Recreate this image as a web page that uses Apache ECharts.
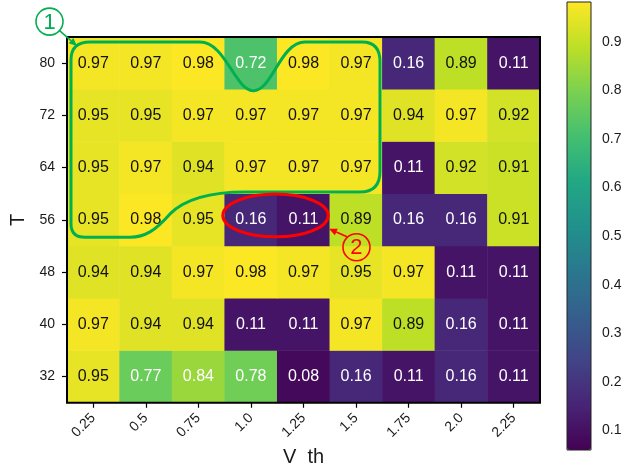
<!DOCTYPE html>
<html><head><meta charset="utf-8">
<script src="https://cdn.jsdelivr.net/npm/echarts@6/dist/echarts.min.js"></script>
<style>html,body{margin:0;padding:0;background:#fff}#c{width:626px;height:472px}</style>
</head><body><div id="c"></div>
<script>
// ---- data ----
const vthLabels = ['0.25','0.5','0.75','1.0','1.25','1.5','1.75','2.0','2.25'];
const tLabels = ['32','40','48','56','64','72','80']; // bottom -> top
const t80 = [0.97,0.97,0.98,0.72,0.98,0.97,0.16,0.89,0.11];
const t72 = [0.95,0.95,0.97,0.97,0.97,0.97,0.94,0.97,0.92];
const t64 = [0.95,0.97,0.94,0.97,0.97,0.97,0.11,0.92,0.91];
const t56 = [0.95,0.98,0.95,0.16,0.11,0.89,0.16,0.16,0.91];
const t48 = [0.94,0.94,0.97,0.98,0.97,0.95,0.97,0.11,0.11];
const t40 = [0.97,0.94,0.94,0.11,0.11,0.97,0.89,0.16,0.11];
const t32 = [0.95,0.77,0.84,0.78,0.08,0.16,0.11,0.16,0.11];
const rowsBottomUp = [t32,t40,t48,t56,t64,t72,t80];
const colorbarTicks = [0.1,0.2,0.3,0.4,0.5,0.6,0.7,0.8,0.9];
const colorMin = 0.06, colorMax = 0.982;
const viridis = ['#440154','#482475','#414487','#355f8d','#2a788e','#21918c','#22a884','#44bf70','#7ad151','#bddf26','#fde725'];

const FONT = 'Liberation Sans';
const heatData = [];
rowsBottomUp.forEach((row, j) => row.forEach((v, i) => {
  heatData.push({value:[i,j,v], label:{color: v < 0.85 ? '#ffffff' : '#111111'}});
}));

// annotation geometry in cell units (column index, row index from bottom)
function renderAnnotations(params, api){
  const p00 = api.coord([0,0]), p11 = api.coord([1,1]);
  const cw = p11[0]-p00[0], ch = p11[1]-p00[1];
  const P = (c,r) => [p00[0]+c*cw, p00[1]+r*ch];
  const pt = (c,r) => { const q=P(c,r); return q[0].toFixed(1)+' '+q[1].toFixed(1); };
  const greenPath =
    'M'+pt(-0.424,2.924)+
    ' L'+pt(-0.424,6.063)+
    ' Q'+pt(-0.424,6.405)+' '+pt(-0.062,6.405)+
    ' L'+pt(2.030,6.405)+
    ' C'+pt(2.506,6.405)+' '+pt(2.696,5.492)+' '+pt(3.039,5.473)+
    ' C'+pt(3.400,5.454)+' '+pt(3.553,6.405)+' '+pt(4.028,6.405)+
    ' L'+pt(5.113,6.405)+
    ' Q'+pt(5.455,6.405)+' '+pt(5.455,6.025)+
    ' L'+pt(5.455,3.932)+
    ' Q'+pt(5.455,3.533)+' '+pt(5.075,3.533)+
    ' L'+pt(2.887,3.533)+
    ' C'+pt(2.221,3.533)+' '+pt(1.745,3.400)+' '+pt(1.460,3.114)+
    ' C'+pt(1.174,2.791)+' '+pt(0.984,2.668)+' '+pt(0.699,2.668)+
    ' L'+pt(-0.158,2.668)+
    ' Q'+pt(-0.424,2.668)+' '+pt(-0.424,2.924)+' Z';
  // ellipse as four cubic curves
  const ec = P(3.467,3.086), rx = 1.003*cw, ry = Math.abs(0.409*ch), k = 0.5523;
  const f = (x,y) => x.toFixed(1)+' '+y.toFixed(1);
  const ell = 'M'+f(ec[0]+rx,ec[1])+
    ' C'+f(ec[0]+rx,ec[1]+k*ry)+' '+f(ec[0]+k*rx,ec[1]+ry)+' '+f(ec[0],ec[1]+ry)+
    ' C'+f(ec[0]-k*rx,ec[1]+ry)+' '+f(ec[0]-rx,ec[1]+k*ry)+' '+f(ec[0]-rx,ec[1])+
    ' C'+f(ec[0]-rx,ec[1]-k*ry)+' '+f(ec[0]-k*rx,ec[1]-ry)+' '+f(ec[0],ec[1]-ry)+
    ' C'+f(ec[0]+k*rx,ec[1]-ry)+' '+f(ec[0]+rx,ec[1]-k*ry)+' '+f(ec[0]+rx,ec[1])+' Z';
  function arrow(from, to, color, lw){
    const a=P(from[0],from[1]), b=P(to[0],to[1]);
    const dx=b[0]-a[0], dy=b[1]-a[1], L=Math.hypot(dx,dy), ux=dx/L, uy=dy/L;
    const hl=8, hw=3.5, bx=b[0]-ux*hl, by=b[1]-uy*hl;
    return [
      {type:'line', shape:{x1:a[0],y1:a[1],x2:bx,y2:by}, style:{stroke:color, lineWidth:lw}},
      {type:'polygon', shape:{points:[[b[0],b[1]],[bx-uy*hw,by+ux*hw],[bx+uy*hw,by-ux*hw]]}, style:{fill:color}}
    ];
  }
  function circled(c, r, txt, color){
    const q=P(c,r);
    return [
      {type:'circle', shape:{cx:q[0], cy:q[1], r:13.5}, style:{fill:'none', stroke:color, lineWidth:1.6}},
      {type:'text', x:q[0], y:q[1]+1, style:{text:txt, fill:color, font:'22px '+FONT, align:'center', verticalAlign:'middle'}}
    ];
  }
  return {type:'group', children:[
    {type:'path', shape:{pathData:greenPath}, style:{fill:'none', stroke:'#00b050', lineWidth:3}},
    {type:'path', shape:{pathData:ell}, style:{fill:'none', stroke:'#ff0000', lineWidth:3}},
    ...circled(-0.833,6.795,'1','#00b050'),
    ...arrow([-0.652,6.633],[-0.310,6.329],'#00b050',1.6),
    ...circled(5.008,2.477,'2','#ff0000'),
    ...arrow([4.827,2.677],[4.485,2.829],'#ff0000',1.6)
  ]};
}

const chart = echarts.init(document.getElementById('c'), null, {renderer:'canvas'});
chart.setOption({
  animation:false,
  backgroundColor:'#ffffff',
  grid:[
    {left:67, top:37, width:473, height:368, show:true, z:10, backgroundColor:'transparent', borderColor:'#000', borderWidth:2},
    {left:567, top:2, width:24, height:448, show:true, z:10, backgroundColor:'transparent', borderColor:'#222', borderWidth:1}
  ],
  xAxis:[
    {type:'category', gridIndex:0, data:vthLabels, position:'bottom',
     axisLine:{show:false}, axisTick:{show:true, alignWithLabel:true, length:5, lineStyle:{color:'#000', width:1.2}},
     axisLabel:{rotate:45, fontSize:14, fontFamily:FONT, color:'#1a1a1a', margin:13},
     name:'V  th', nameLocation:'middle', nameGap:44, nameTextStyle:{fontSize:20, fontFamily:FONT, color:'#1a1a1a'},
     splitLine:{show:false}},
    {type:'value', gridIndex:1, show:false}
  ],
  yAxis:[
    {type:'category', gridIndex:0, data:tLabels,
     axisLine:{show:false}, axisTick:{show:true, alignWithLabel:true, length:5, lineStyle:{color:'#000', width:1.2}},
     axisLabel:{fontSize:14, fontFamily:FONT, color:'#1a1a1a', margin:12},
     name:'T', nameLocation:'middle', nameRotate:90, nameGap:38, nameTextStyle:{fontSize:20, fontFamily:FONT, color:'#1a1a1a'},
     splitLine:{show:false}},
    {type:'value', gridIndex:1, position:'right', min:colorMin, max:colorMax,
     axisLine:{show:false}, splitLine:{show:false},
     axisTick:{show:true, length:4, customValues:colorbarTicks, lineStyle:{color:'#000'}},
     axisLabel:{fontSize:14, fontFamily:FONT, color:'#1a1a1a', margin:11, customValues:colorbarTicks, formatter:v=>v.toFixed(1)}}
  ],
  visualMap:{
    type:'continuous', min:colorMin, max:colorMax, calculable:false, seriesIndex:0, dimension:2,
    orient:'vertical', left:567, top:2, itemWidth:24, itemHeight:448, padding:0,
    text:null, showLabel:false, inRange:{color:viridis}
  },
  series:[{
    type:'heatmap', xAxisIndex:0, yAxisIndex:0, data:heatData,
    itemStyle:{borderWidth:0},
    emphasis:{disabled:true},
    label:{show:true, fontSize:16, fontFamily:FONT, formatter:p=>p.value[2].toFixed(2)}
  },{
    type:'custom', xAxisIndex:0, yAxisIndex:0, z:20, silent:true, clip:false,
    data:[[0,0]], renderItem:renderAnnotations
  }]
});
</script>
</body></html>
